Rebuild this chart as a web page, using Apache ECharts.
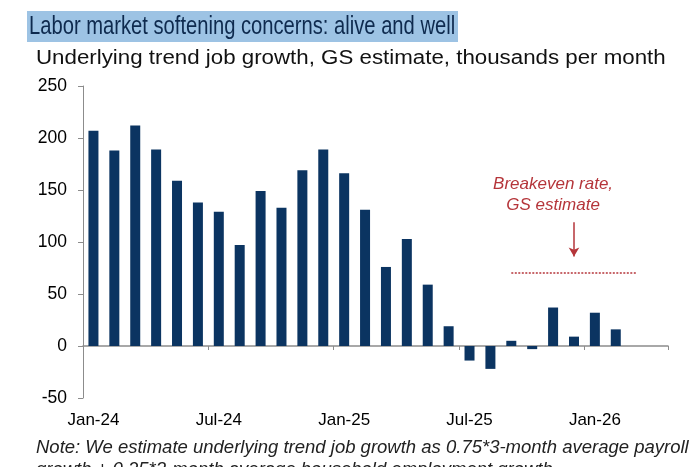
<!DOCTYPE html>
<html>
<head>
<meta charset="utf-8">
<script src="https://cdn.jsdelivr.net/npm/echarts@6/dist/echarts.min.js"></script>
<style>
html,body{margin:0;padding:0;background:#fff;}
#chart{width:697px;height:467px;}
</style>
</head>
<body>
<div id="chart"></div>
<script>
var months = ['Jan-24','Feb-24','Mar-24','Apr-24','May-24','Jun-24','Jul-24','Aug-24','Sep-24','Oct-24','Nov-24','Dec-24',
  'Jan-25','Feb-25','Mar-25','Apr-25','May-25','Jun-25','Jul-25','Aug-25','Sep-25','Oct-25','Nov-25','Dec-25',
  'Jan-26','Feb-26','Mar-26','Apr-26'];
var trendJobGrowth = [207, 188, 212, 189, 159, 138, 129, 97, 149, 133, 169, 189,
  166, 131, 76, 103, 59, 19, -14, -22, 5, -3, 37, 9, 32, 16];
var breakevenRate = 70;
var breakevenStart = 'Sep-25';
var breakevenEnd = 'Mar-26';
var arrowAt = 'Dec-25';
var labelAt = 'Nov-25';
var yTicks = {min: -50, max: 250, interval: 50};

var titleText = 'Labor market softening concerns: alive and well';
var subtitleText = 'Underlying trend job growth, GS estimate, thousands per month';
var noteText = 'Note: We estimate underlying trend job growth as 0.75*3-month average payroll\ngrowth + 0.25*3-month average household employment growth';
var annotationText = 'Breakeven rate,\nGS estimate';

var chart = echarts.init(document.getElementById('chart'));
var red = '#B5353A';
var sans = 'Liberation Sans, Arial, sans-serif';
chart.setOption({
  animation: false,
  graphic: [
    {type: 'rect', shape: {x: 27, y: 11, width: 431, height: 31}, style: {fill: '#9DC3E4'}, silent: true},
    {type: 'text', x: 29, y: 27, scaleX: 0.776, style: {text: titleText, font: 'normal 26px ' + sans, fill: '#0E2A4E', textVerticalAlign: 'middle'}, silent: true},
    {type: 'text', x: 36, y: 58, scaleX: 1.115, style: {text: subtitleText, font: 'normal 20px ' + sans, fill: '#111', textVerticalAlign: 'middle'}, silent: true},
    {type: 'text', x: 36, y: 437, style: {text: noteText, font: 'italic 18.5px ' + sans, fill: '#222', lineHeight: 22, textVerticalAlign: 'top'}, silent: true}
  ],
  grid: {left: 83, right: 29, top: 86, bottom: 69, containLabel: false, outerBoundsMode: 'none'},
  xAxis: {
    type: 'category',
    data: months,
    axisLine: {onZero: true, lineStyle: {color: '#8c8c8c', width: 1.5}},
    axisTick: {show: true, interval: 5, length: 4, alignWithLabel: false, lineStyle: {color: '#8c8c8c'}},
    axisLabel: {interval: 5, margin: 14, fontFamily: sans, fontSize: 17, color: '#000'},
    splitLine: {show: false}
  },
  yAxis: {
    type: 'value',
    min: yTicks.min, max: yTicks.max, interval: yTicks.interval,
    axisLine: {show: true, onZero: false, lineStyle: {color: '#8c8c8c', width: 1}},
    axisTick: {show: true, length: 5, lineStyle: {color: '#8c8c8c'}},
    axisLabel: {margin: 16, fontFamily: sans, fontSize: 17.5, color: '#000'},
    splitLine: {show: false}
  },
  series: [{
    type: 'bar',
    data: trendJobGrowth,
    barWidth: 10,
    itemStyle: {color: '#0B3461'},
    markLine: {
      silent: true,
      animation: false,
      label: {show: false},
      data: [
        [
          {coord: [breakevenStart, breakevenRate], symbol: 'none', lineStyle: {type: [2, 1.5], color: red, width: 1.5}},
          {coord: [breakevenEnd, breakevenRate], symbol: 'none'}
        ],
        [
          {coord: [arrowAt, 119], symbol: 'none', lineStyle: {type: 'solid', color: red, width: 1.5}},
          {coord: [arrowAt, 86], symbol: 'arrow', symbolSize: [8, 9]}
        ]
      ]
    },
    markPoint: {
      silent: true,
      symbol: 'circle',
      symbolSize: 1,
      itemStyle: {color: 'rgba(0,0,0,0)'},
      data: [{
        coord: [labelAt, 145],
        label: {
          show: true,
          position: 'inside',
          formatter: annotationText,
          color: red,
          fontFamily: sans,
          fontStyle: 'italic',
          fontSize: 17,
          lineHeight: 21,
          align: 'center',
          verticalAlign: 'middle'
        }
      }]
    }
  }]
});
</script>
</body>
</html>
